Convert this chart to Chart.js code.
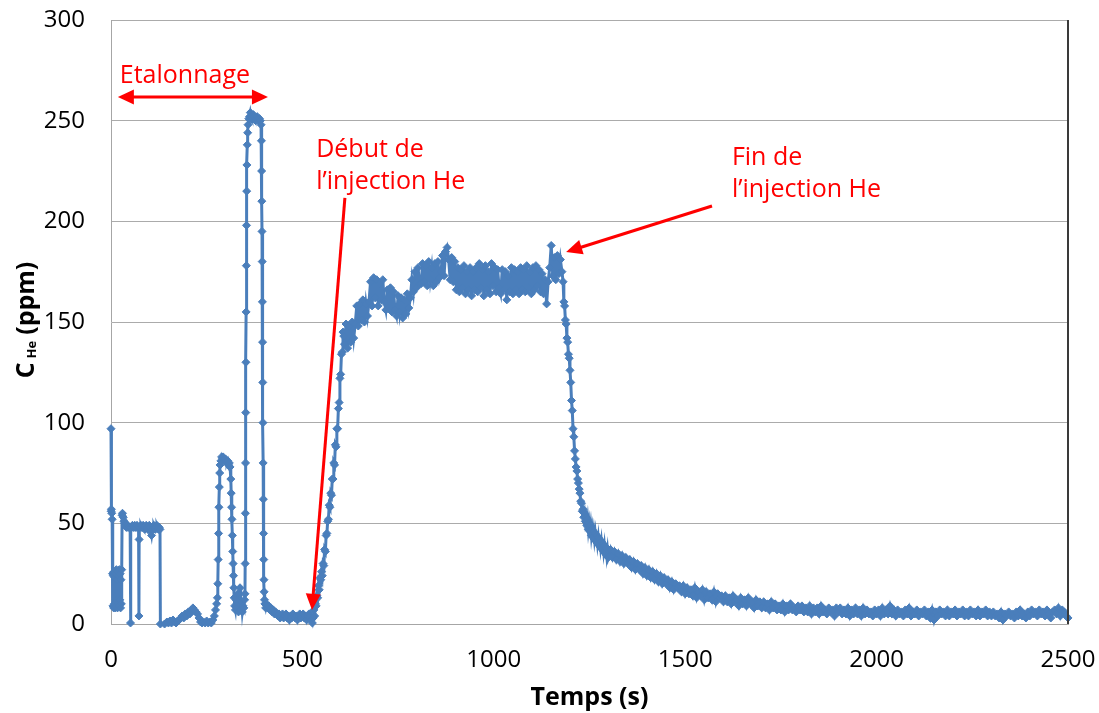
<!DOCTYPE html>
<html lang="fr">
<head>
<meta charset="utf-8">
<title>Concentration He</title>
<script src="https://cdn.jsdelivr.net/npm/chart.js@4.4.1/dist/chart.umd.min.js"></script>
<style>
  html, body { margin: 0; padding: 0; background: #fff; }
  #chart { display: block; }
</style>
</head>
<body>
<canvas id="chart" width="1099" height="713"></canvas>
<script>
// --- Data: time (s) and C_He (ppm), by segment ---

// calibration step ~50 ppm with glitches
const tEtalon50 = [0, 0.4, 1, 2, 3, 4, 5, 6, 7, 8, 9, 10, 11, 12, 13, 14, 15, 16, 17, 18,
  19, 20, 21, 22, 23, 24, 25, 26, 27, 28, 29, 30, 32, 34, 36, 38, 40, 42, 44, 46,
  48, 50, 51, 52, 54, 56, 58, 60, 62, 64, 66, 68, 70, 72, 73, 73.5, 74, 76, 78, 80,
  82, 84, 86, 88, 90, 92, 94, 96, 98, 100, 102, 104, 106, 108, 110, 112, 114, 116, 118, 120,
  122, 124, 126, 128, 129, 140];
const cEtalon50 = [97, 56, 57, 55, 52, 25, 9, 24, 8, 26, 10, 23, 8, 25, 9, 27, 12, 22, 8, 26,
  10, 24, 9, 27, 12, 25, 8, 22, 10, 27, 54, 55, 53, 51, 50, 49, 48, 48, 49, 48,
  48, 48, 0.5, 48, 48, 49, 48, 48, 49, 48, 48, 49, 48, 48, 4, 42, 48, 48, 49, 48,
  48, 49, 48, 47, 48, 49, 48, 47, 48, 49, 48, 46, 44, 47, 48, 49, 48, 47, 48, 49,
  48, 47, 48, 47, 0, 0];

// baseline before the 80 ppm step
const tBase1 = [146, 150, 154, 158, 162, 166, 170, 174, 178, 182, 186, 190, 194, 198, 202, 206, 210, 214, 218, 222,
  226, 230, 234, 238, 242, 246, 250, 254, 258, 262, 266, 270, 273, 276, 278];
const cBase1 = [1, 0.5, 1.5, 0.5, 2, 1, 0.5, 1.5, 2, 3, 4, 3, 5, 4, 6, 5, 7, 8, 7, 6,
  5, 3, 1, 0.5, 1, 0.5, 1.5, 0.5, 1, 0.5, 2, 4, 7, 10, 13];

// 80 ppm step
const tEtalon80 = [279, 280, 281, 282, 283, 284, 285, 287, 289, 291, 293, 295, 297, 299, 301, 303, 305, 307, 309, 311,
  313, 314, 315, 316, 317, 318, 319, 320, 321, 322, 323, 325, 327, 329, 331, 333, 335, 337, 339, 341,
  343, 345, 347, 349];
const cEtalon80 = [20, 32, 45, 58, 68, 75, 79, 81, 83, 82, 83, 82, 81, 82, 81, 80, 81, 79, 80, 78,
  72, 65, 58, 52, 44, 36, 30, 24, 18, 13, 9, 7, 12, 8, 15, 6, 10, 18, 7, 11,
  6, 9, 8, 12];

// 250 ppm step
const tEtalon250 = [350, 350.5, 351, 351.5, 352, 352.5, 353, 353.5, 354, 354.5, 355, 356, 357, 358, 360, 362, 364, 366, 368, 370,
  372, 374, 376, 378, 380, 382, 384, 386, 388, 390, 392, 393, 393.5, 394, 394.5, 395, 395.5, 396, 396.5, 397,
  397.5, 398, 398.5, 399, 399.5, 400, 401, 402, 404];
const cEtalon250 = [15, 30, 55, 80, 105, 130, 155, 178, 198, 215, 228, 238, 244, 248, 251, 252, 254, 252, 251, 252,
  253, 252, 251, 250, 251, 252, 251, 250, 251, 250, 248, 240, 225, 210, 195, 180, 160, 140, 120, 100,
  80, 62, 45, 32, 22, 16, 12, 10, 8];

// baseline before injection
const tBase2 = [406, 409, 412, 415, 418, 421, 424, 427, 430, 433, 436, 439, 442, 445, 448, 451, 454, 457, 460, 463,
  466, 469, 472, 475, 478, 481, 484, 487, 490, 493, 496, 499, 502, 505, 508, 511, 514, 517, 520, 523,
  526];
const cBase2 = [10, 8, 9, 7, 8, 6, 7, 5, 6, 5, 4, 5, 3, 4, 5, 3, 4, 5, 3, 4,
  2, 4, 3, 5, 4, 3, 4, 2, 4, 5, 3, 4, 5, 3, 4, 2, 4, 5, 3, 2,
  0.5];

// rise after injection start
const tRise = [528, 530, 532, 534, 536, 538, 540, 542, 544, 546, 548, 550, 552, 554, 556, 558, 560, 562, 564, 566,
  568, 570, 572, 574, 576, 578, 580, 582, 584, 586, 588, 590, 592, 594, 596, 598, 600, 602, 604, 606,
  608];
const cRise = [3, 7, 4, 10, 9, 14, 13, 19, 17, 23, 22, 26, 24, 30, 29, 37, 36, 44, 45, 51,
  52, 59, 58, 65, 64, 72, 72, 80, 79, 89, 88, 97, 97, 107, 110, 122, 124, 134, 135, 145,
  143];

// plateau during injection
const tPlateau = [610, 614, 618, 622, 626, 630, 634, 638, 642, 646,
  650, 654, 658, 662, 666, 670, 674, 678, 682, 686,
  690, 694, 698, 702, 706, 710, 714, 718, 722, 726,
  730, 734, 738, 742, 746, 750, 754, 758, 762, 766,
  770, 774, 778, 782, 786, 790, 794, 798, 802, 806,
  810, 814, 818, 822, 826, 830, 834, 838, 842, 846,
  850, 854, 858, 862, 866, 870, 874, 878, 882, 886,
  890, 894, 898, 902, 906, 910, 914, 918, 922, 926,
  930, 934, 938, 942, 946, 950, 954, 958, 962, 966,
  970, 974, 978, 982, 986, 990, 994, 998, 1002, 1006,
  1010, 1014, 1018, 1022, 1026, 1030, 1034, 1038, 1042, 1046,
  1050, 1054, 1058, 1062, 1066, 1070, 1074, 1078, 1082, 1086,
  1090, 1094, 1098, 1102, 1106, 1110, 1114, 1118, 1122, 1126,
  1130, 1134, 1138, 1142, 1146, 1150, 1154, 1158, 1162, 1166,
  1170, 1174, 1178];
const cPlateau = [139, 149, 137, 148, 140, 150, 142,
  149, 158, 148, 159, 151, 161, 150, 159, 153,
  160, 170, 158, 172, 162, 171, 158, 169, 161, 171, 160,
  156, 166, 157, 167, 155, 165, 156,
  153, 163, 155, 162, 152, 161, 154, 164, 157,
  162, 171, 165, 175, 167, 177, 169,
  169, 179, 170, 178, 168, 180, 171, 177, 168, 179, 170, 180, 172,
  175, 183, 173, 185, 187, 181, 171, 182, 170, 180,
  166, 177, 165, 176, 167, 178, 164, 175, 166, 177, 163, 175, 166,
  177, 165, 179, 167, 176, 163, 178, 166, 175, 164, 179, 168, 177, 165, 176, 167,
  164, 176, 166, 175, 161, 173, 165, 177, 164, 176, 166, 175, 164,
  177, 166, 176, 165, 178, 167, 175, 164, 177, 166, 178, 168, 176, 165, 174, 164, 171, 159, 170,
  177, 188, 173, 182, 171, 183, 174, 181, 175];

// fall after injection end
const tFall = [1181, 1183, 1185, 1187, 1189, 1191, 1193, 1195, 1197, 1199,
  1201, 1203, 1205, 1207, 1209, 1211, 1213, 1215, 1217, 1219,
  1221, 1223, 1225, 1227, 1229, 1231, 1233, 1235, 1237, 1239,
  1241, 1243, 1245, 1247, 1249, 1251, 1253, 1255, 1257, 1259,
  1261, 1263, 1265, 1267, 1269, 1271, 1273, 1275, 1277, 1279,
  1281, 1283, 1285, 1287, 1289, 1291, 1293, 1295, 1297, 1299];
const cFall = [170, 160, 158, 151, 149, 142, 140, 134, 132, 126,
  120, 111, 106, 97, 93, 86, 82, 78, 76, 72,
  70, 67, 65, 61, 60, 56, 57, 53, 55, 51,
  53, 49, 52, 47, 50, 46, 49, 44, 47, 43,
  46, 42, 45, 41, 44, 40, 43, 39, 42, 38,
  41, 37, 40, 36, 39, 35, 38, 34, 37, 33];

// decay tail
const tTail = [1305, 1310, 1315, 1320, 1325, 1330, 1335, 1340, 1345, 1350, 1355, 1360, 1365, 1370, 1375, 1380, 1385, 1390, 1395, 1400,
  1405, 1410, 1415, 1420, 1425, 1430, 1435, 1440, 1445, 1450, 1455, 1460, 1465, 1470, 1475, 1480, 1485, 1490, 1495, 1500,
  1505, 1510, 1515, 1520, 1525, 1530, 1535, 1540, 1545, 1550, 1555, 1560, 1565, 1570, 1575, 1580, 1585, 1590, 1595, 1600,
  1605, 1610, 1615, 1620, 1625, 1630, 1635, 1640, 1645, 1650, 1655, 1660, 1665, 1670, 1675, 1680, 1685, 1690, 1695, 1700,
  1705, 1710, 1715, 1720, 1725, 1730, 1735, 1740, 1745, 1750, 1755, 1760, 1765, 1770, 1775, 1780, 1785, 1790, 1795, 1800,
  1805, 1810, 1815, 1820, 1825, 1830, 1835, 1840, 1845, 1850, 1855, 1860, 1865, 1870, 1875, 1880, 1885, 1890, 1895, 1900,
  1905, 1910, 1915, 1920, 1925, 1930, 1935, 1940, 1945, 1950, 1955, 1960, 1965, 1970, 1975, 1980, 1985, 1990, 1995, 2000,
  2005, 2010, 2015, 2020, 2025, 2030, 2035, 2040, 2045, 2050, 2055, 2060, 2065, 2070, 2075, 2080, 2085, 2090, 2095, 2100,
  2105, 2110, 2115, 2120, 2125, 2130, 2135, 2140, 2145, 2150, 2155, 2160, 2165, 2170, 2175, 2180, 2185, 2190, 2195, 2200,
  2205, 2210, 2215, 2220, 2225, 2230, 2235, 2240, 2245, 2250, 2255, 2260, 2265, 2270, 2275, 2280, 2285, 2290, 2295, 2300,
  2305, 2310, 2315, 2320, 2325, 2330, 2335, 2340, 2345, 2350, 2355, 2360, 2365, 2370, 2375, 2380, 2385, 2390, 2395, 2400,
  2405, 2410, 2415, 2420, 2425, 2430, 2435, 2440, 2445, 2450, 2455, 2460, 2465, 2470, 2475, 2480, 2485, 2490, 2495, 2500];
const cTail = [37, 33, 36, 32, 35, 31, 34, 30, 33, 30, 32, 28, 31, 27, 30, 27, 29, 25, 28, 24,
  27, 23, 26, 22, 25, 21, 24, 20, 23, 20, 22, 18, 21, 17, 20, 18, 19, 16, 19, 15,
  18, 15, 17, 14, 18, 13, 16, 14, 17, 12, 16, 13, 15, 12, 16, 11, 15, 13, 14, 11,
  14, 11, 13, 10, 14, 11, 12, 9, 13, 10, 12, 9, 13, 10, 11, 8, 12, 9, 11, 8,
  11, 8, 10, 7, 11, 8, 10, 7, 9, 7, 10, 6, 9, 7, 10, 7, 8, 6, 9, 7,
  9, 6, 8, 6, 9, 5, 8, 6, 8, 5, 9, 6, 7, 5, 8, 6, 7, 4, 8, 6,
  8, 5, 7, 5, 8, 4, 7, 5, 8, 5, 7, 4, 8, 5, 7, 5, 6, 4, 7, 5,
  7, 4, 8, 5, 7, 5, 9, 5, 7, 4, 7, 5, 6, 4, 7, 5, 8, 4, 6, 5,
  7, 4, 6, 5, 7, 4, 6, 3, 7, 2, 6, 4, 7, 5, 6, 4, 7, 4, 6, 5,
  7, 4, 6, 5, 7, 4, 6, 4, 7, 5, 6, 4, 7, 4, 6, 5, 7, 4, 6, 4,
  6, 4, 5, 3, 6, 2, 5, 4, 6, 4, 5, 3, 6, 4, 7, 4, 5, 3, 6, 4,
  7, 5, 6, 4, 7, 5, 6, 4, 7, 5, 3, 6, 7, 5, 8, 4, 7, 6, 4, 3];

const temps = [...tEtalon50, ...tBase1, ...tEtalon80, ...tEtalon250, ...tBase2, ...tRise, ...tPlateau, ...tFall, ...tTail];
const cHe = [...cEtalon50, ...cBase1, ...cEtalon80, ...cEtalon250, ...cBase2, ...cRise, ...cPlateau, ...cFall, ...cTail];
if (temps.length !== cHe.length) console.error("length mismatch", temps.length, cHe.length);

// red annotations, in data units
const notes = [
  { lines: ["Etalonnage"], t: 23, v: 268.7 },
  { lines: ["Début de", "l’injection He"], t: 536, v: 232 },
  { lines: ["Fin de", "l’injection He"], t: 1622, v: 228 }
];
const arrows = [
  { from: [18, 261.8], to: [410, 261.8], both: true },
  { from: [611, 211.6], to: [525, 7] },
  { from: [1570, 207.6], to: [1189, 184.8] }
];

const BLUE = "#4a7ebb";
const RED = "#ff0000";
const FONT = "'Open Sans', 'DejaVu Sans', sans-serif";

function drawHead(ctx, x0, y0, x1, y1, len, half) {
    const a = Math.atan2(y1 - y0, x1 - x0);
    const bx = x1 - len * Math.cos(a), by = y1 - len * Math.sin(a);
    ctx.beginPath();
    ctx.moveTo(x1, y1);
    ctx.lineTo(bx + half * Math.sin(a), by - half * Math.cos(a));
    ctx.lineTo(bx - half * Math.sin(a), by + half * Math.cos(a));
    ctx.closePath();
    ctx.fill();
}

const annotationPlugin = {
    id: "annotations",
    afterDatasetsDraw(chart) {
        const { ctx, scales: { x, y } } = chart;
        const len = 16, half = 7.5;
        ctx.save();
        ctx.strokeStyle = RED;
        ctx.fillStyle = RED;
        ctx.lineWidth = 3;
        arrows.forEach(a => {
            const x0 = x.getPixelForValue(a.from[0]), y0 = y.getPixelForValue(a.from[1]);
            const x1 = x.getPixelForValue(a.to[0]), y1 = y.getPixelForValue(a.to[1]);
            const d = Math.hypot(x1 - x0, y1 - y0);
            const ux = (x1 - x0) / d, uy = (y1 - y0) / d;
            const s = a.both ? len - 2 : 0;
            ctx.beginPath();
            ctx.moveTo(x0 + ux * s, y0 + uy * s);
            ctx.lineTo(x1 - ux * (len - 2), y1 - uy * (len - 2));
            ctx.stroke();
            drawHead(ctx, x0, y0, x1, y1, len, half);
            if (a.both) drawHead(ctx, x1, y1, x0, y0, len, half);
        });
        ctx.font = "25px " + FONT;
        ctx.textAlign = "left";
        ctx.textBaseline = "alphabetic";
        notes.forEach(n => {
            n.lines.forEach((txt, i) => {
                ctx.fillText(txt, x.getPixelForValue(n.t), y.getPixelForValue(n.v) + i * 32);
            });
        });
        ctx.restore();
    }
};

// y title with subscript: C_He (ppm)
const yTitlePlugin = {
    id: "yTitle",
    afterDraw(chart) {
        const { ctx, chartArea } = chart;
        const parts = [
            { text: "C", font: "bold 25px " + FONT, dy: 0, gap: 4 },
            { text: "He", font: "bold 13px " + FONT, dy: 2, gap: 6 },
            { text: "(ppm)", font: "bold 25px " + FONT, dy: 0, gap: 0 }
        ];
        ctx.save();
        let total = 0;
        parts.forEach(p => { ctx.font = p.font; p.w = ctx.measureText(p.text).width; total += p.w + p.gap; });
        const cy = (chartArea.top + chartArea.bottom) / 2 - 2;
        ctx.translate(34, cy + total / 2);
        ctx.rotate(-Math.PI / 2);
        ctx.fillStyle = "#000";
        ctx.textBaseline = "alphabetic";
        let cx = 0;
        parts.forEach(p => { ctx.font = p.font; ctx.fillText(p.text, cx, p.dy); cx += p.w + p.gap; });
        ctx.restore();
    }
};

// dark right edge of the plot area
const rightEdgePlugin = {
    id: "rightEdge",
    afterDraw(chart) {
        const { ctx, chartArea } = chart;
        ctx.save();
        ctx.strokeStyle = "#3a3a3a";
        ctx.lineWidth = 2;
        ctx.beginPath();
        ctx.moveTo(chartArea.right, chartArea.top);
        ctx.lineTo(chartArea.right, chartArea.bottom);
        ctx.stroke();
        ctx.restore();
    }
};

function noScalePadding(s) {
    s.paddingTop = 0;
    s.paddingBottom = 0;
    s.paddingLeft = 0;
    s.paddingRight = 0;
}

new Chart(document.getElementById("chart"), {
    type: "scatter",
    data: {
        datasets: [{
            label: "C He",
            data: temps.map((t, i) => ({ x: t, y: cHe[i] })),
            showLine: true,
            borderColor: BLUE,
            backgroundColor: BLUE,
            borderWidth: 3,
            tension: 0,
            pointStyle: "rectRot",
            pointRadius: 4,
            pointBorderWidth: 1,
            pointBorderColor: BLUE,
            pointBackgroundColor: BLUE,
            clip: 6
        }]
    },
    options: {
        responsive: false,
        animation: false,
        layout: { padding: { top: 20, right: 31, bottom: 0, left: 0 } },
        plugins: {
            legend: { display: false },
            tooltip: { enabled: false }
        },
        scales: {
            x: {
                type: "linear",
                min: 0,
                max: 2500,
                afterFit(s) { s.height = 89; noScalePadding(s); },
                grid: { display: false, drawTicks: false },
                border: { display: true, color: "#a6a6a6", width: 1 },
                ticks: {
                    stepSize: 500,
                    padding: 22,
                    color: "#000",
                    font: { family: FONT, size: 24 },
                    callback: v => String(v)
                },
                title: {
                    display: true,
                    text: "Temps (s)",
                    color: "#000",
                    font: { family: FONT, size: 25, weight: "bold" },
                    padding: { top: 0, bottom: 0 }
                }
            },
            y: {
                min: 0,
                max: 300,
                afterFit(s) { s.width = 111; noScalePadding(s); },
                grid: { color: "#ababab", lineWidth: 1, drawTicks: false },
                border: { display: true, color: "#a6a6a6", width: 1 },
                ticks: {
                    stepSize: 50,
                    padding: 26,
                    color: "#000",
                    font: { family: FONT, size: 24 },
                    callback: v => String(v)
                }
            }
        }
    },
    plugins: [annotationPlugin, yTitlePlugin, rightEdgePlugin]
});
</script>
</body>
</html>
